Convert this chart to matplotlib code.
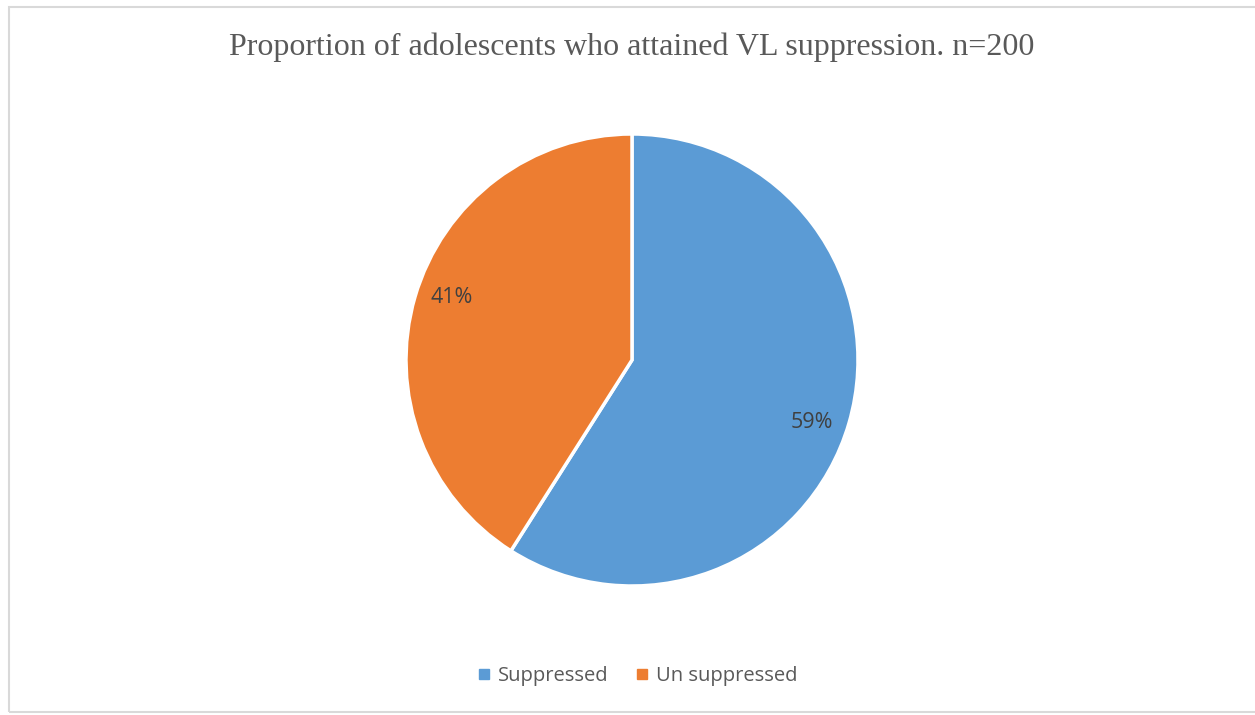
import matplotlib
matplotlib.use("Agg")
import matplotlib.pyplot as plt
import numpy as np
from matplotlib.lines import Line2D
from matplotlib.patches import Rectangle

title = "Proportion of adolescents who attained VL suppression. n=200"
categories = ["Suppressed", "Un suppressed"]
values = [59, 41]
colors = ["#5B9BD5", "#ED7D31"]

W, H = 1255, 715
fig = plt.figure(figsize=(W / 100, H / 100), dpi=100)

# border (right edge falls outside the image, as in the reference)
fig.patches.append(Rectangle((9 / W, 3 / H), (W + 20) / W, (H - 10) / H,
                             transform=fig.transFigure, fill=False,
                             edgecolor="#D9D9D9", linewidth=1.5))

cx, cy, r = 632, 360, 226
ax = fig.add_axes([(cx - r) / W, (H - cy - r) / H, 2 * r / W, 2 * r / H])
wedges, texts, autotexts = ax.pie(
    values, colors=colors, startangle=90, counterclock=False,
    autopct=lambda p: f"{p:.0f}%", pctdistance=0.85,
    wedgeprops=dict(edgecolor="white", linewidth=2.5),
    textprops=dict(color="#404040", fontsize=15.5, family="Open Sans"))
# nudge labels slightly clockwise (Excel "best fit" placement)
for w, t in zip(wedges, autotexts):
    ang = np.deg2rad((w.theta1 + w.theta2) / 2 - 3)
    t.set_position((0.845 * np.cos(ang), 0.845 * np.sin(ang)))
ax.set_xlim(-1, 1)
ax.set_ylim(-1, 1)
ax.set_aspect("equal")
ax.axis("off")

fig.text(cx / W, 1 - 47 / H, title, ha="center", va="center",
         family="Liberation Serif", fontsize=23, color="#595959")

handles = [Line2D([], [], marker="s", linestyle="none", markersize=7,
                  markerfacecolor=c, markeredgecolor=c) for c in colors]
fig.legend(handles, categories, loc="center", bbox_to_anchor=(637 / W, 1 - 676 / H),
           ncol=2, frameon=False, prop=dict(family="Open Sans", size=14.5),
           labelcolor="#595959", handletextpad=0.3, columnspacing=1.25,
           handlelength=0.8)

fig.savefig("out.png", dpi=100)
